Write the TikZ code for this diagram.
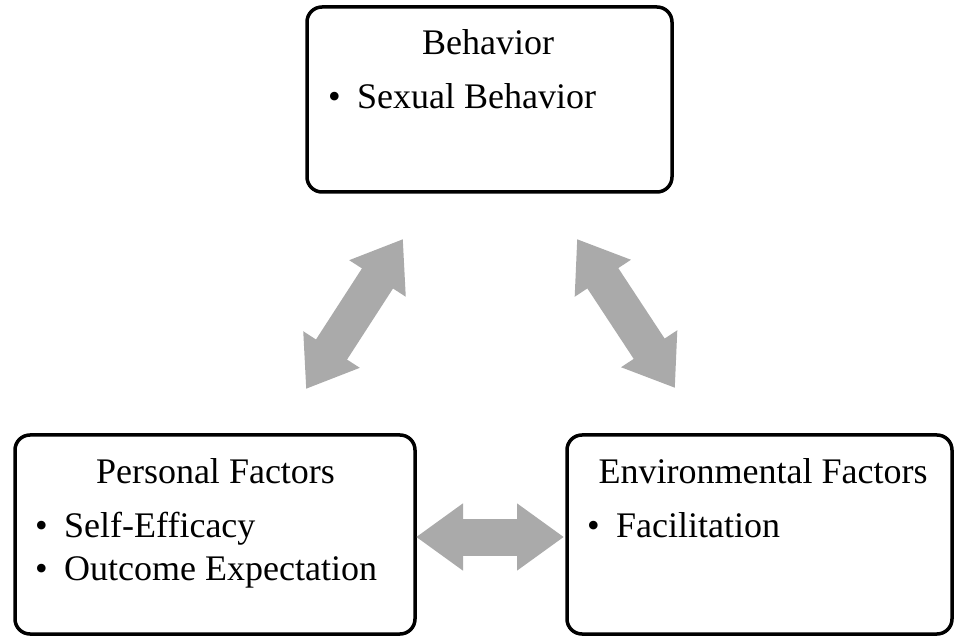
\documentclass[tikz,border=0pt]{standalone}
\usepackage{fontspec}
\setmainfont{Liberation Serif}
\usetikzlibrary{arrows.meta,positioning}
\definecolor{arrowColor}{RGB}{170,170,170}
\tikzset{factor/.style={draw, line width=3.5pt, rounded corners=15pt, minimum height=199pt, inner sep=0pt}}
\tikzset{label/.style={inner sep=0pt, font=\fontsize{36}{43}\selectfont}}
\tikzset{title/.style={label, anchor=base}}
\tikzset{item/.style={label, anchor=base west}}
\tikzstyle{bigarrow} = [draw=arrowColor, line width=37pt, {Triangle[length=47pt, width=64pt]}-{Triangle[length=47pt, width=64pt]}]
\newcommand{\bul}{\makebox[29pt][l]{\textbullet}}

\begin{document}
\begin{tikzpicture}[x=1pt, y=-1pt]
	\useasboundingbox (0,0) rectangle (954,636);
	% Nodes
		\node (behavior) [factor, minimum width=365pt, minimum height=185pt] at (489.5,99.5) {};
		\node (personal) [factor, minimum width=400pt] at (215,534.5) {};
		\node (environment) [factor, minimum width=385pt] at (759.5,534.5) {};

		\node (behaviortitle) [title] at (488,55) {Behavior};
		\node (sexual) [item] at (328,109) {\bul Sexual Behavior};

		\node (personaltitle) [title] at (215.5,483) {Personal Factors};
		\node (efficacy) [item] at (35,537) {\bul Self-Efficacy};
		\node (outcome) [item] at (35,580) {\bul Outcome Expectation};

		\node (environmenttitle) [title] at (763,483) {Environmental Factors};
		\node (facilitation) [item] at (587,537) {\bul Facilitation};

		\coordinate (bpA) at (403,239);
		\coordinate (bpB) at (306,389);
		\coordinate (beA) at (577,239);
		\coordinate (beB) at (675,388);
		\coordinate (peA) at (416,537);
		\coordinate (peB) at (564,537);

		% Connectors
		\draw [bigarrow] (bpB) -- (bpA);
		\draw [bigarrow] (beA) -- (beB);
		\draw [bigarrow] (peA) -- (peB);
\end{tikzpicture}
\end{document}
